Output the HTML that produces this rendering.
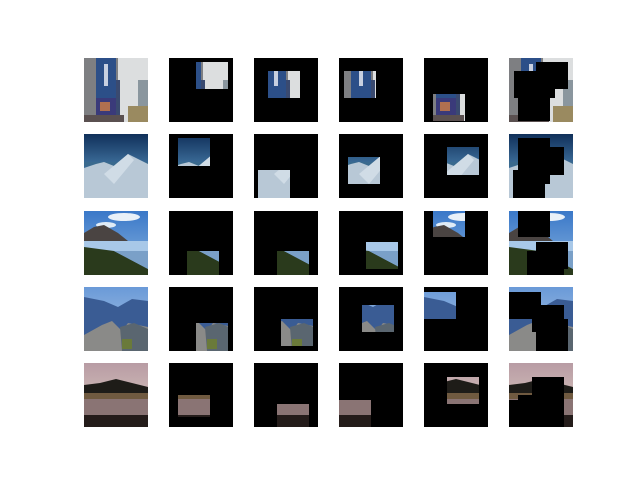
<!DOCTYPE html>
<html><head><meta charset="utf-8"><style>
html,body{margin:0;padding:0;background:#fff;}
svg{display:block;}
</style></head><body>
<svg id="fig" width="640" height="480" viewBox="0 0 640 480" xmlns="http://www.w3.org/2000/svg">
<defs>
<linearGradient id="g-mt" x1="0" y1="0" x2="0" y2="1"><stop offset="0" stop-color="#10305a"/><stop offset="0.45" stop-color="#3a6a96"/></linearGradient>
<linearGradient id="g-sky3" x1="0" y1="0" x2="0" y2="1"><stop offset="0" stop-color="#3a78c8"/><stop offset="1" stop-color="#8ab4e0"/></linearGradient>
<linearGradient id="g-sky4" x1="0" y1="0" x2="0" y2="1"><stop offset="0" stop-color="#6a9ad8"/><stop offset="1" stop-color="#b0c8e4"/></linearGradient>
<linearGradient id="g-sky5" x1="0" y1="0" x2="0" y2="1"><stop offset="0" stop-color="#b89ca4"/><stop offset="1" stop-color="#e0d0c4"/></linearGradient>
<g id="scene0">
<rect width="64" height="64" fill="#dcdedf"/>
<rect x="0" y="0" width="34" height="64" fill="#7e7f82"/>
<rect x="12" y="0" width="20" height="46" fill="#2c4f88"/>
<rect x="20" y="6" width="4" height="22" fill="#c8d0e0"/>
<rect x="12" y="40" width="20" height="17" fill="#3a3a7a"/>
<rect x="16" y="44" width="10" height="9" fill="#b07050"/>
<rect x="32" y="22" width="4" height="42" fill="#3a4a70"/>
<rect x="54" y="22" width="10" height="32" fill="#8a969e"/>
<rect x="44" y="48" width="20" height="16" fill="#9a8a60"/>
<rect x="0" y="57" width="40" height="7" fill="#5a5050"/>
</g>
<g id="scene1">
<rect width="64" height="64" fill="url(#g-mt)"/>
<rect y="28" width="64" height="4" fill="#3a6a8e"/>
<polygon points="0,34 12,30 20,28 30,32 44,20 52,24 64,30 64,64 0,64" fill="#b8c8d6"/>
<polygon points="20,40 44,20 50,26 30,50" fill="#d0dce6"/>
</g>
<g id="scene2">
<rect width="64" height="64" fill="url(#g-sky3)"/>
<ellipse cx="40" cy="6" rx="16" ry="4" fill="#e8f0f8"/>
<ellipse cx="22" cy="14" rx="10" ry="3" fill="#e0ecf6"/>
<polygon points="0,22 10,16 20,14 34,22 44,30 0,30" fill="#4a4442"/>
<rect y="30" width="64" height="10" fill="#a8c8e8"/>
<polygon points="0,36 30,40 64,58 64,64 0,64" fill="#2a3a1c"/>
<polygon points="30,40 64,40 64,58" fill="#7aa0c8"/>
</g>
<g id="scene3">
<rect width="64" height="64" fill="url(#g-sky4)"/>
<polygon points="0,10 20,14 34,20 48,12 64,14 64,50 0,48" fill="#3a5c94"/>
<polygon points="0,48 18,38 28,34 38,44 44,36 64,40 64,64 0,64" fill="#8a8a88"/>
<polygon points="36,40 50,36 64,42 64,64 38,64" fill="#5a6670"/>
<rect x="38" y="52" width="10" height="10" fill="#6a7a3a"/>
</g>
<g id="scene4">
<rect width="64" height="64" fill="url(#g-sky5)"/>
<polygon points="0,22 16,20 32,16 48,20 64,24 64,32 0,32" fill="#1e1c18"/>
<rect y="30" width="64" height="6" fill="#705a40"/>
<rect y="36" width="64" height="16" fill="#8a7474"/>
<rect y="52" width="64" height="12" fill="#241c1a"/>
</g>
</defs>
<g id="grid"></g>
</svg>
<script>
// crop rectangles [x, y, w, h] in 64px image coordinates, per row (scene) and per crop column
const rowNames = ["building", "snow-mountain", "glacier", "rocky-mountain", "night-lake"];
const cropsRow0 = [[27,4,32,27],[14,13,32,27],[5,13,32,27],[9,36,32,27]];
const cropsRow1 = [[9,4,32,28],[4,36,32,28],[9,23,32,27],[23,13,32,28]];
const cropsRow2 = [[18,40,32,24],[23,40,32,24],[27,31,32,27],[9,0,32,26]];
const cropsRow3 = [[27,36,32,28],[27,32,32,27],[23,18,32,27],[0,5,32,27]];
const cropsRow4 = [[9,32,32,22],[23,41,32,23],[0,37,32,27],[23,14,32,27]];
const allCrops = [cropsRow0, cropsRow1, cropsRow2, cropsRow3, cropsRow4];
const colLeft = [84, 169, 254, 339, 424, 509];
const rowTop = [58, 134, 211, 287, 363];
const NS = "http://www.w3.org/2000/svg";
const grid = document.getElementById("grid");
function mk(tag, attrs){const e=document.createElementNS(NS,tag);for(const k in attrs)e.setAttribute(k,attrs[k]);return e;}
allCrops.forEach((crops, r) => {
  // original
  const g0 = mk("g", {transform:`translate(${colLeft[0]},${rowTop[r]})`});
  
  
  g0.appendChild(mk("use", {href:"#scene"+r}));
  grid.appendChild(g0);
  // crops
  crops.forEach((c, i) => {
    const g = mk("g", {transform:`translate(${colLeft[i+1]},${rowTop[r]})`});
    
    
    const id = `clip-${r}-${i}`;
    const cp = mk("clipPath", {id:id});
    cp.appendChild(mk("rect", {x:c[0], y:c[1], width:c[2], height:c[3]}));
    g.appendChild(cp);
    g.appendChild(mk("rect", {width:64, height:64, fill:"#000"}));
    g.appendChild(mk("use", {href:"#scene"+r, "clip-path":`url(#${id})`}));
    grid.appendChild(g);
  });
  // masked
  const gm = mk("g", {transform:`translate(${colLeft[5]},${rowTop[r]})`});
  
  
  gm.appendChild(mk("use", {href:"#scene"+r}));
  crops.forEach(c => gm.appendChild(mk("rect", {x:c[0], y:c[1], width:c[2], height:c[3], fill:"#000"})));
  grid.appendChild(gm);
});
</script>
</body></html>
